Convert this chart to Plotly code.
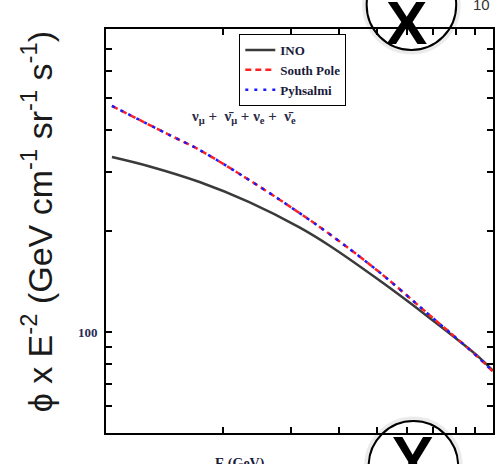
import plotly.graph_objects as go

# ---- data ----
energy_ino = [1.036, 1.297, 1.745, 2.345, 3.153, 3.766, 5.063, 6.806, 9.15, 10.0]
flux_ino = [332.9, 312.0, 280.3, 244.1, 205.5, 181.5, 143.1, 110.9, 84.6, 76.6]

energy_sp = [1.036, 1.46, 1.745, 2.345, 3.153, 3.766, 5.063, 6.806, 9.15, 10.0]
flux_sp = [472.8, 387.3, 349.4, 284.2, 227.1, 196.7, 151.5, 113.1, 84.1, 76.1]

energy_py = [1.036, 1.46, 1.745, 2.345, 3.153, 3.766, 5.063, 6.806, 9.15, 10.0]
flux_py = [472.8, 387.3, 349.4, 284.2, 227.1, 196.7, 151.5, 113.1, 84.1, 76.1]

x_tickvals = [1, 2, 3, 4, 5, 6, 7, 8, 9, 10]
x_ticktext = ["", "", "", "", "", "", "", "", "", "10"]
y_tickvals = [60, 70, 80, 90, 100, 200, 300, 400, 500, 600, 700, 800]
y_ticktext = ["", "", "", "", "100", "", "", "", "", "", "", ""]

series_names = ["INO", "South Pole", "Pyhsalmi"]

# ---- layout geometry (pixels) ----
W, H = 499, 464
L, R, T, B = 106, 4, 29, 31
pw, ph = W - L - R, H - T - B


def px(x):
    return (x - L) / pw


def py(y):
    return (H - B - y) / ph


fig = go.Figure()
fig.add_trace(go.Scatter(x=energy_ino, y=flux_ino, mode="lines", name=series_names[0],
                         line=dict(color="#3a3a3a", width=2.5), line_shape="spline"))
fig.add_trace(go.Scatter(x=energy_sp, y=flux_sp, mode="lines", name=series_names[1],
                         line=dict(color="#ff2020", width=2.5, dash="6px,4px"), line_shape="spline"))
fig.add_trace(go.Scatter(x=energy_py, y=flux_py, mode="lines", name=series_names[2],
                         line=dict(color="#1a1aff", width=2.5, dash="3px,6px"), line_shape="spline"))

axis_common = dict(showgrid=False, zeroline=False, showline=True, linecolor="black",
                   linewidth=2, mirror="ticks", ticks="inside", ticklen=6,
                   tickcolor="black", tickwidth=2)

fig.update_xaxes(type="log", range=[0, 1], tickvals=x_tickvals, ticktext=x_ticktext,
                 tickfont=dict(family="Liberation Serif", size=13, color="#1a1a3a", weight="bold"),
                 **axis_common)
fig.update_yaxes(type="log", range=[1.6985, 2.9045], tickvals=y_tickvals, ticktext=y_ticktext,
                 tickfont=dict(family="Liberation Serif", size=13, color="#2a2a55", weight="bold"),
                 ticklabelstandoff=4,
                 **axis_common)

annotations = [
    dict(text="ϕ x E<sup>-2</sup> (GeV cm<sup>-1</sup> sr<sup>-1</sup> s<sup>-1</sup>)",
         x=px(36), y=py(222), xref="paper", yref="paper", textangle=-90,
         xanchor="center", yanchor="middle",
         showarrow=False, font=dict(family="Liberation Sans", size=34, color="#1a1a1a")),
    dict(text="<b>ν<sub>μ</sub> +  ν̄<sub>μ</sub> + ν<sub>e</sub> +  ν̄<sub>e</sub></b>",
         x=px(244), y=py(117), xref="paper", yref="paper", showarrow=False,
         xanchor="center", yanchor="middle",
         font=dict(family="Liberation Serif", size=15, color="#2a2a44")),
    dict(text="<b>E (GeV)</b>", x=px(241), y=py(454), xref="paper", yref="paper",
         xanchor="center", yanchor="top", showarrow=False,
         font=dict(family="Liberation Serif", size=14, color="#1a1a3a")),
    dict(text="10", x=px(483), y=py(5), xref="paper", yref="paper", showarrow=False,
         xanchor="center", yanchor="middle",
         font=dict(family="Liberation Sans", size=15, color="#333333")),
    dict(text="<b>X</b>", x=px(408), y=py(-14), xref="paper", yref="paper", showarrow=False,
         xanchor="center", yanchor="top",
         font=dict(family="Liberation Sans", size=62, color="black")),
    dict(text="<b>Y</b>", x=px(414), y=py(421), xref="paper", yref="paper",
         xanchor="center", yanchor="top",
         showarrow=False, font=dict(family="Liberation Sans", size=62, color="black")),
]

shapes = []
for cx, cy in [(413, 5), (415, 466)]:
    r = 45
    shapes.append(dict(type="circle", xref="paper", yref="paper",
                       x0=px(cx - r - 2), x1=px(cx + r + 2), y0=py(cy + r + 2), y1=py(cy - r - 2),
                       line=dict(color="rgba(0,0,0,0.08)", width=5)))
    shapes.append(dict(type="circle", xref="paper", yref="paper",
                       x0=px(cx - r), x1=px(cx + r), y0=py(cy + r), y1=py(cy - r),
                       line=dict(color="black", width=2)))

fig.update_layout(
    width=W, height=H,
    margin=dict(l=L, r=R, t=T, b=B, pad=0),
    paper_bgcolor="white", plot_bgcolor="white",
    showlegend=True,
    legend=dict(x=px(240), y=py(34), xanchor="left", yanchor="top",
                bgcolor="white", bordercolor="black", borderwidth=1,
                font=dict(family="Liberation Serif", size=13, color="#1a1a3a", weight="bold"),
                itemwidth=30, tracegroupgap=0),
    annotations=annotations,
    shapes=shapes,
)

fig.write_html("out.html")
